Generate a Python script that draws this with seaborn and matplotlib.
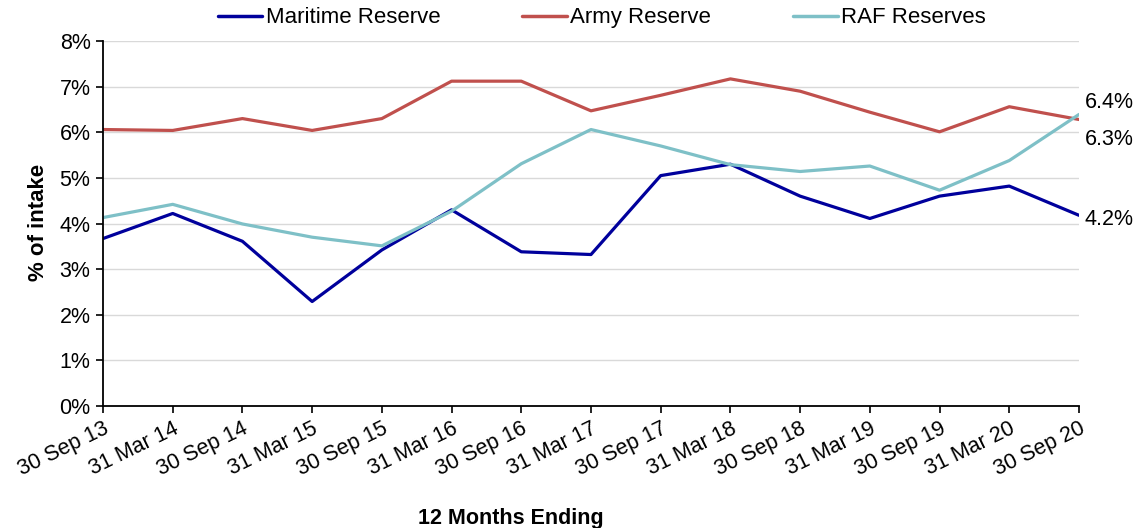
import numpy as np
import pandas as pd
import matplotlib
matplotlib.use("Agg")
import matplotlib.pyplot as plt
import seaborn as sns

# ── Data ───────────────────────────────────────────────────
periods = ["30 Sep 13", "31 Mar 14", "30 Sep 14", "31 Mar 15", "30 Sep 15",
           "31 Mar 16", "30 Sep 16", "31 Mar 17", "30 Sep 17", "31 Mar 18",
           "30 Sep 18", "31 Mar 19", "30 Sep 19", "31 Mar 20", "30 Sep 20"]
maritime = [3.67, 4.22, 3.61, 2.29, 3.42, 4.30, 3.38, 3.32, 5.05, 5.30,
            4.60, 4.11, 4.60, 4.82, 4.18]
army = [6.06, 6.04, 6.30, 6.04, 6.30, 7.12, 7.12, 6.47, 6.81, 7.17,
        6.90, 6.44, 6.01, 6.56, 6.28]
raf = [4.13, 4.42, 3.99, 3.70, 3.51, 4.27, 5.31, 6.06, 5.70, 5.29,
       5.14, 5.26, 4.73, 5.38, 6.39]
series_names = ["Maritime Reserve", "Army Reserve", "RAF Reserves"]
end_labels = ["4.2%", "6.3%", "6.4%"]
yticks = list(range(0, 9))

COLORS = {"Maritime Reserve": "#00009C",
          "Army Reserve":     "#C0504D",
          "RAF Reserves":     "#7EC0C7"}

df = pd.DataFrame({
    "period": periods * 3,
    "idx":    list(range(len(periods))) * 3,
    "value":  maritime + army + raf,
    "series": np.repeat(series_names, len(periods)),
})

# ── Styling ────────────────────────────────────────────────
sns.set_theme(style="white")
plt.rcParams.update({
    "font.family":     ["Liberation Sans", "DejaVu Sans"],
    "text.color":      "black",
    "axes.labelcolor": "black",
    "xtick.color":     "black",
    "ytick.color":     "black",
})

fig, ax = plt.subplots(figsize=(11.42, 5.28), dpi=100)
fig.subplots_adjust(left=0.0902, right=0.9448, top=0.9223, bottom=0.2311)

sns.lineplot(data=df, x="idx", y="value", hue="series", hue_order=series_names,
             palette=COLORS, linewidth=2.3, ax=ax, legend=False)

ax.set_xlim(0, len(periods) - 1)
ax.set_ylim(0, 8)
ax.set_yticks(yticks)
ax.set_yticklabels([f"{t}%" for t in yticks], fontsize=15.5)
ax.set_xticks(range(len(periods)))
ax.set_xticklabels(periods, rotation=26, ha="right", rotation_mode="anchor", fontsize=15.5)
ax.tick_params(axis="both", direction="out", length=5, width=1.2, color="black",
               bottom=True, left=True, pad=4)
ax.grid(axis="y", color="#D9D9D9", linewidth=1)
ax.set_axisbelow(True)
for side in ["top", "right"]:
    ax.spines[side].set_visible(False)
for side in ["left", "bottom"]:
    ax.spines[side].set_color("black")
    ax.spines[side].set_linewidth(1.3)
ax.set_xlabel("")
ax.set_ylabel("")

# end-of-line value labels
last = len(periods) - 1
label_y = [maritime[-1] - 0.10, army[-1] - 0.44, raf[-1] + 0.26]
for txt, yy in zip(end_labels, label_y):
    ax.text(last + 0.08, yy, txt, fontsize=15.5, va="center", ha="left", clip_on=False)

# axis titles
fig.text(0.034, 0.578, "% of intake", rotation=90, fontsize=16, fontweight="bold",
         ha="center", va="center")
fig.text(0.447, 0.018, "12 Months Ending", fontsize=15.5, fontweight="bold",
         ha="center", va="center")

# legend
handles = [plt.Line2D([], [], color=COLORS[n], linewidth=2.5) for n in series_names]
fig.legend(handles, series_names, loc="center", bbox_to_anchor=(0.527, 0.966),
           ncol=3, frameon=False, fontsize=16, handlelength=2.0,
           handletextpad=0.15, columnspacing=3.7)

plt.savefig("out.png", dpi=100)
plt.close()
